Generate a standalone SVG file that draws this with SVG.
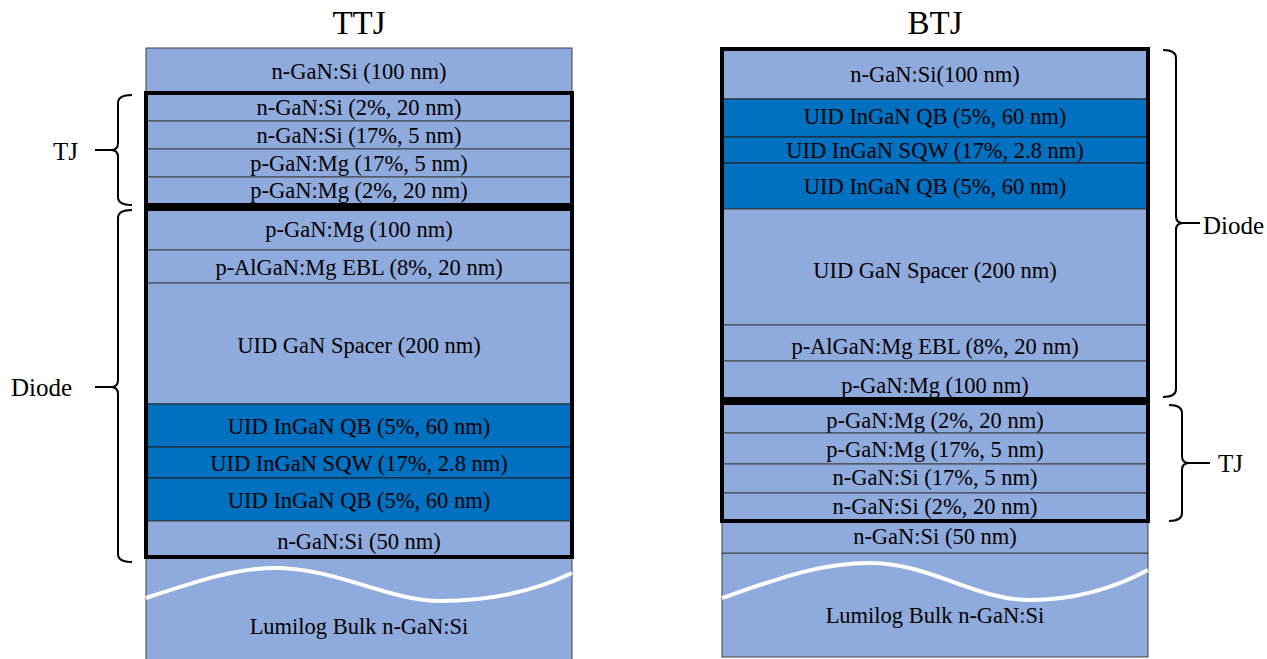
<svg xmlns="http://www.w3.org/2000/svg" width="1267" height="659" viewBox="0 0 1267 659">
<style>
.l{fill:#8FAADC;stroke:#404040;stroke-width:1}
.d{fill:#0070C0;stroke:#202020;stroke-width:1}
.t{font-family:"Liberation Serif","Times New Roman",serif;font-size:22.5px;fill:#000;text-anchor:middle;dominant-baseline:central}
.h{font-family:"Liberation Serif","Times New Roman",serif;font-size:33px;fill:#000;text-anchor:middle}
.s{font-family:"Liberation Serif","Times New Roman",serif;font-size:25px;fill:#000;dominant-baseline:central}
.box{fill:none;stroke:#000;stroke-width:4}
.br{fill:none;stroke:#000;stroke-width:2}
.w{fill:none;stroke:#fff;stroke-width:4}
</style>
<text class="h" x="359" y="34">TTJ</text>
<text class="h" x="935" y="34">BTJ</text>
<g id="ttj">
<rect class="l" x="146" y="557" width="426" height="104"/>
<path class="w" d="M146,598 C200,580 240,567 280,568 C340,570 390,601 440,601 C500,601 545,586 572,573"/>
<text class="t" x="359" y="626">Lumilog Bulk n-GaN:Si</text>
<rect class="l" x="146" y="48" width="426" height="44"/>
<text class="t" x="359" y="71">n-GaN:Si (100 nm)</text>
<rect class="l" x="146" y="92" width="426" height="29"/>
<text class="t" x="359" y="107">n-GaN:Si (2%, 20 nm)</text>
<rect class="l" x="146" y="121" width="426" height="28"/>
<text class="t" x="359" y="135">n-GaN:Si (17%, 5 nm)</text>
<rect class="l" x="146" y="149" width="426" height="28"/>
<text class="t" x="359" y="163">p-GaN:Mg (17%, 5 nm)</text>
<rect class="l" x="146" y="177" width="426" height="28"/>
<text class="t" x="359" y="190">p-GaN:Mg (2%, 20 nm)</text>
<rect class="l" x="146" y="209" width="426" height="41"/>
<text class="t" x="359" y="229">p-GaN:Mg (100 nm)</text>
<rect class="l" x="146" y="250" width="426" height="33"/>
<text class="t" x="359" y="267">p-AlGaN:Mg EBL (8%, 20 nm)</text>
<rect class="l" x="146" y="283" width="426" height="121"/>
<text class="t" x="359" y="345">UID GaN Spacer (200 nm)</text>
<rect class="d" x="146" y="404" width="426" height="43"/>
<text class="t" x="359" y="426">UID InGaN QB (5%, 60 nm)</text>
<rect class="d" x="146" y="447" width="426" height="31"/>
<text class="t" x="359" y="463">UID InGaN SQW (17%, 2.8 nm)</text>
<rect class="d" x="146" y="478" width="426" height="43"/>
<text class="t" x="359" y="500">UID InGaN QB (5%, 60 nm)</text>
<rect class="l" x="146" y="521" width="426" height="36"/>
<text class="t" x="359" y="541">n-GaN:Si (50 nm)</text>
<rect class="box" x="146" y="93" width="426" height="112"/>
<rect class="box" x="146" y="209" width="426" height="348"/>
</g>
<g id="btj">
<rect class="l" x="722" y="553" width="426" height="104"/>
<path class="w" d="M722,598 C780,578 820,563 870,563 C930,563 975,600 1030,600 C1080,600 1120,585 1148,570"/>
<text class="t" x="935" y="615">Lumilog Bulk n-GaN:Si</text>
<rect class="l" x="722" y="522" width="426" height="31"/>
<text class="t" x="935" y="536">n-GaN:Si (50 nm)</text>
<rect class="l" x="722" y="48" width="426" height="51"/>
<text class="t" x="935" y="74">n-GaN:Si(100 nm)</text>
<rect class="d" x="722" y="99" width="426" height="38"/>
<text class="t" x="935" y="116">UID InGaN QB (5%, 60 nm)</text>
<rect class="d" x="722" y="137" width="426" height="26"/>
<text class="t" x="935" y="150">UID InGaN SQW (17%, 2.8 nm)</text>
<rect class="d" x="722" y="163" width="426" height="46"/>
<text class="t" x="935" y="186">UID InGaN QB (5%, 60 nm)</text>
<rect class="l" x="722" y="209" width="426" height="116"/>
<text class="t" x="935" y="270">UID GaN Spacer (200 nm)</text>
<rect class="l" x="722" y="325" width="426" height="36"/>
<text class="t" x="935" y="346">p-AlGaN:Mg EBL (8%, 20 nm)</text>
<rect class="l" x="722" y="361" width="426" height="38"/>
<text class="t" x="935" y="385">p-GaN:Mg (100 nm)</text>
<rect class="l" x="722" y="403" width="426" height="30"/>
<text class="t" x="935" y="420">p-GaN:Mg (2%, 20 nm)</text>
<rect class="l" x="722" y="433" width="426" height="31"/>
<text class="t" x="935" y="449">p-GaN:Mg (17%, 5 nm)</text>
<rect class="l" x="722" y="464" width="426" height="29"/>
<text class="t" x="935" y="477">n-GaN:Si (17%, 5 nm)</text>
<rect class="l" x="722" y="493" width="426" height="29"/>
<text class="t" x="935" y="506">n-GaN:Si (2%, 20 nm)</text>
<rect class="box" x="722" y="49" width="426" height="350"/>
<rect class="box" x="722" y="403" width="426" height="118"/>
</g>
<g id="braces">
<path class="br" d="M132,95 Q118,95 118,103 L118,143 Q118,150 111,150 Q118,150 118,157 L118,197 Q118,205 132,205 M95,150 L112,150"/>
<path class="br" d="M132,210 Q118,210 118,218 L118,380 Q118,387 111,387 Q118,387 118,394 L118,554 Q118,562 132,562 M95,387 L112,387"/>
<path class="br" d="M1163,50 Q1176,50 1176,58 L1176,216 Q1176,223 1183,223 Q1176,223 1176,230 L1176,389 Q1176,397 1163,397 M1182,223 L1200,223"/>
<path class="br" d="M1169,405 Q1182,405 1182,413 L1182,456 Q1182,463 1189,463 Q1182,463 1182,470 L1182,513 Q1182,521 1169,521 M1188,463 L1210,463"/>
</g>
<text class="s" x="53" y="151">TJ</text>
<text class="s" x="11" y="387">Diode</text>
<text class="s" x="1203" y="225">Diode</text>
<text class="s" x="1218" y="463">TJ</text>
</svg>
